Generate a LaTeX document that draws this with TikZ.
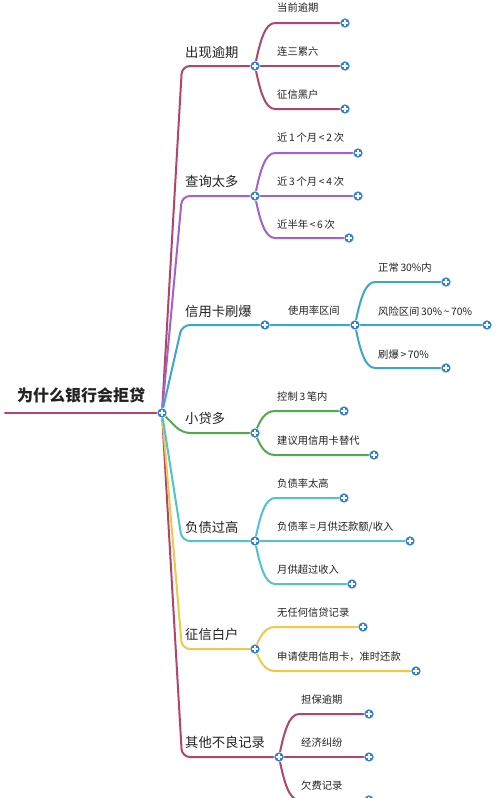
\documentclass[tikz,border=0pt]{standalone}
\usepackage{fontspec}
\setmainfont{Noto Sans CJK SC}
\usetikzlibrary{backgrounds}
\definecolor{ink}{HTML}{222222}
\definecolor{knotblue}{HTML}{2F7ED6}
\definecolor{rosewood}{HTML}{B2456E}
\definecolor{lilac}{HTML}{A461C9}
\definecolor{skyblue}{HTML}{3DA5D2}
\definecolor{leafgreen}{HTML}{55A852}
\definecolor{teal}{HTML}{4FC3CF}
\definecolor{mustard}{HTML}{F0C94A}
\tikzset{
  knot/.style={circle,fill=knotblue,draw=white,line width=0.5pt,inner sep=0pt,minimum size=10pt,
    path picture={\draw[white,line width=1.2pt]
      ([xshift=-2.6pt]path picture bounding box.center) -- ([xshift=2.6pt]path picture bounding box.center)
      ([yshift=-2.6pt]path picture bounding box.center) -- ([yshift=2.6pt]path picture bounding box.center);}},
  twig/.style={line width=2pt,line cap=round},
  limb/.style={anchor=west,inner sep=0pt,text=ink,font=\fontsize{13.3}{15}\selectfont},
  leaf/.style={anchor=west,inner sep=0pt,text=ink,font=\fontsize{10.3}{12}\selectfont},
}
\begin{document}
\begin{tikzpicture}[x=1pt,y=-1pt]
\useasboundingbox (0,0) rectangle (500,798);
\clip (0,0) rectangle (500,798);
% root
\coordinate (start) at (5,413);
\coordinate (hub) at (182,413);
\node[knot] (root) at (162,413) {};
\node[anchor=west,inner sep=0pt,text=ink,font=\bfseries\fontsize{16}{18}\selectfont] (title) at (17,395) {为什么银行会拒贷};
% 出现逾期
\node[knot] (b1) at (255,66) {};\node[limb] (t1) at (185,52) {出现逾期};
\node[knot] (b1a) at (345,23) {};\node[leaf] (t1a) at (277,8) {当前逾期};
\node[knot] (b1b) at (345,66) {};\node[leaf] (t1b) at (277,52) {连三累六};
\node[knot] (b1c) at (345,109) {};\node[leaf] (t1c) at (277,95) {征信黑户};
% 查询太多
\node[knot] (b2) at (255,196) {};\node[limb] (t2) at (185,181) {查询太多};
\node[knot] (b2a) at (358,153) {};\node[leaf] (t2a) at (277,138) {近\,1\,个月\,<\,2\,次};
\node[knot] (b2b) at (358,196) {};\node[leaf] (t2b) at (277,182) {近\,3\,个月\,<\,4\,次};
\node[knot] (b2c) at (349,238) {};\node[leaf] (t2c) at (277,225) {近半年\,<\,6\,次};
% 信用卡刷爆
\node[knot] (b3) at (265,325) {};\node[limb] (t3) at (185,311) {信用卡刷爆};
\node[knot] (b3m) at (355,325) {};\node[leaf] (t3m) at (288,311) {使用率区间};
\node[knot] (b3a) at (446,282) {};\node[leaf] (t3a) at (378,268) {正常\,30\%内};
\node[knot] (b3b) at (487,325) {};\node[leaf] (t3b) at (378,312) {风险区间\,30\%\,\textasciitilde\,70\%};
\node[knot] (b3c) at (446,368) {};\node[leaf] (t3c) at (378,355) {刷爆\,>\,70\%};
% 小贷多
\node[knot] (b4) at (255,433) {};\node[limb] (t4) at (185,418) {小贷多};
\node[knot] (b4a) at (344,411) {};\node[leaf] (t4a) at (277,397) {控制\,3\,笔内};
\node[knot] (b4b) at (374,455) {};\node[leaf] (t4b) at (277,441) {建议用信用卡替代};
% 负债过高
\node[knot] (b5) at (255,541) {};\node[limb] (t5) at (185,527) {负债过高};
\node[knot] (b5a) at (344,498) {};\node[leaf] (t5a) at (277,484) {负债率太高};
\node[knot] (b5b) at (410,541) {};\node[leaf] (t5b) at (277,527) {负债率\,=\,月供还款额/收入};
\node[knot] (b5c) at (352,584) {};\node[leaf] (t5c) at (277,570) {月供超过收入};
% 征信白户
\node[knot] (b6) at (255,649) {};\node[limb] (t6) at (185,634) {征信白户};
\node[knot] (b6a) at (363,627) {};\node[leaf] (t6a) at (277,613) {无任何信贷记录};
\node[knot] (b6b) at (416,671) {};\node[leaf] (t6b) at (277,657) {申请使用信用卡，准时还款};
% 其他不良记录
\node[knot] (b7) at (279,757) {};\node[limb] (t7) at (185,742) {其他不良记录};
\node[knot] (b7a) at (369,714) {};\node[leaf] (t7a) at (301,700) {担保逾期};
\node[knot] (b7b) at (369,757) {};\node[leaf] (t7b) at (301,743) {经济纠纷};
\node[knot] (b7c) at (369,800) {};\node[leaf] (t7c) at (301,786) {欠费记录};
\begin{scope}[on background layer]
\fill[white] (0,0) rectangle (500,798);
\draw[twig,rosewood] (start) -- (root.center);
% main branches
\draw[twig,rosewood,rounded corners=8pt] (root.center) -- (hub |- b1.center) -- (b1.center);
\draw[twig,lilac,rounded corners=8pt] (root.center) -- (hub |- b2.center) -- (b2.center);
\draw[twig,skyblue,rounded corners=8pt] (root.center) -- (hub |- b3.center) -- (b3.center) -- (b3m.center);
\draw[twig,leafgreen,rounded corners=8pt] (root.center) -- (hub |- b4.center) -- (b4.center);
\draw[twig,rosewood,rounded corners=8pt] (root.center) -- (hub |- b7.center) -- (b7.center);
\draw[twig,mustard,rounded corners=8pt] (root.center) -- (hub |- b6.center) -- (b6.center);
\draw[twig,teal,rounded corners=8pt] (root.center) -- (hub |- b5.center) -- (b5.center);
% children
\draw[twig,rosewood] (b1.center) .. controls +(5,-25) and +(-10,0) .. ++(20,-43) -- (b1a.center);
\draw[twig,rosewood] (b1.center) -- (b1b.center);
\draw[twig,rosewood] (b1.center) .. controls +(5,25) and +(-10,0) .. ++(20,43) -- (b1c.center);
\draw[twig,lilac] (b2.center) .. controls +(5,-25) and +(-10,0) .. ++(20,-43) -- (b2a.center);
\draw[twig,lilac] (b2.center) -- (b2b.center);
\draw[twig,lilac] (b2.center) .. controls +(5,25) and +(-10,0) .. ++(20,42) -- (b2c.center);
\draw[twig,skyblue] (b3m.center) .. controls +(5,-25) and +(-10,0) .. ++(20,-43) -- (b3a.center);
\draw[twig,skyblue] (b3m.center) -- (b3b.center);
\draw[twig,skyblue] (b3m.center) .. controls +(5,25) and +(-10,0) .. ++(20,43) -- (b3c.center);
\draw[twig,leafgreen] (b4.center) .. controls +(5,-13) and +(-10,0) .. ++(20,-22) -- (b4a.center);
\draw[twig,leafgreen] (b4.center) .. controls +(5,13) and +(-10,0) .. ++(20,22) -- (b4b.center);
\draw[twig,teal] (b5.center) .. controls +(5,-25) and +(-10,0) .. ++(20,-43) -- (b5a.center);
\draw[twig,teal] (b5.center) -- (b5b.center);
\draw[twig,teal] (b5.center) .. controls +(5,25) and +(-10,0) .. ++(20,43) -- (b5c.center);
\draw[twig,mustard] (b6.center) .. controls +(5,-13) and +(-10,0) .. ++(20,-22) -- (b6a.center);
\draw[twig,mustard] (b6.center) .. controls +(5,13) and +(-10,0) .. ++(20,22) -- (b6b.center);
\draw[twig,rosewood] (b7.center) .. controls +(5,-25) and +(-10,0) .. ++(20,-43) -- (b7a.center);
\draw[twig,rosewood] (b7.center) -- (b7b.center);
\draw[twig,rosewood] (b7.center) .. controls +(5,25) and +(-10,0) .. ++(20,43) -- (b7c.center);
\end{scope}
\end{tikzpicture}
\end{document}
